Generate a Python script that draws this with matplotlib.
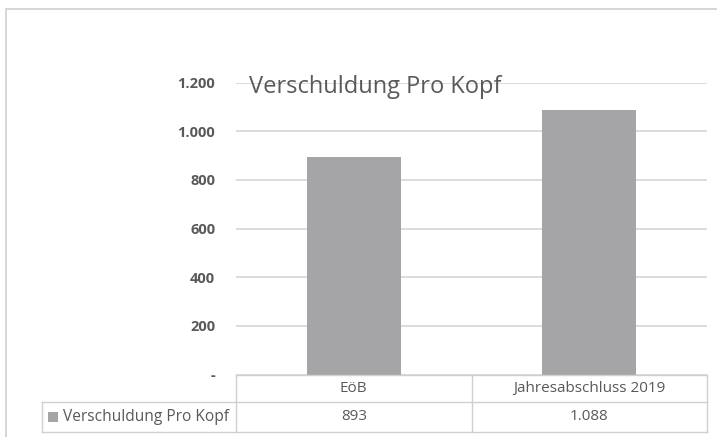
import matplotlib.pyplot as plt
import matplotlib.transforms as mtrans
from matplotlib.patches import Rectangle
from matplotlib.lines import Line2D

# data
categories = ['EöB', 'Jahresabschluss 2019']
values = [893, 1088]
value_labels = ['893', '1.088']
series_name = 'Verschuldung Pro Kopf'
yticks = [0, 200, 400, 600, 800, 1000, 1200]
ytick_labels = ['-', '200', '400', '600', '800', '1.000', '1.200']

W, H = 717, 437
text_col = '#595959'
grid_col = '#d9d9d9'
line_col = '#d0d0d0'
bar_col = '#a5a5a8'

plt.rcParams['font.family'] = ['Open Sans', 'DejaVu Sans']


def fy(py):
    # pixel row (from top) -> figure fraction
    return (H - py) / H


fig = plt.figure(figsize=(W / 100, H / 100), dpi=100)

# outer chart frame (only left and top edges are visible)
fig.patches.append(Rectangle((6 / W, -0.1), 1.2, 1.1 - 9 / H,
                             transform=fig.transFigure, fill=False,
                             edgecolor=line_col, linewidth=1.2))

# plot area: x 236..707 px, value 0 at 374.5 px, 1200 at 82.5 px
y0, y1 = 374.5, 82.5
ax = fig.add_axes([236 / W, fy(y0), (707 - 236) / W, (y0 - y1) / H])
x = list(range(len(categories)))
ax.bar(x, values, width=0.4, color=bar_col, zorder=3)
ax.set_xlim(-0.5, len(categories) - 0.5)
ax.set_ylim(0, 1200)
ax.set_yticks(yticks)
ax.set_yticklabels(ytick_labels, fontsize=10.5, fontweight='bold', color=text_col)
ax.tick_params(axis='y', length=0, pad=15)
ax.set_xticks([])
ax.grid(axis='y', color=grid_col, linewidth=1.3, zorder=0)
ax.set_axisbelow(True)
for s in ax.spines.values():
    s.set_visible(False)

fig.text(249 / W, fy(93), series_name, fontsize=17, color=text_col,
         va='baseline', ha='left')

# data table under the axis
row_px = [375, 402, 432]
left_edge = 42 / W
right_edge = 707 / W
tr = mtrans.blended_transform_factory(ax.transData, fig.transFigure)

fig.lines.append(Line2D([236 / W, right_edge], [fy(row_px[0])] * 2,
                        transform=fig.transFigure, color=line_col, linewidth=1))
for py in row_px[1:]:
    fig.lines.append(Line2D([left_edge, right_edge], [fy(py)] * 2,
                            transform=fig.transFigure, color=line_col, linewidth=1))
for xv in [-0.5 + i for i in range(len(categories) + 1)]:
    ax.add_line(Line2D([xv, xv], [fy(row_px[0]), fy(row_px[2])], transform=tr,
                       color=line_col, linewidth=1, clip_on=False))
fig.lines.append(Line2D([left_edge] * 2, [fy(row_px[1]), fy(row_px[2])],
                        transform=fig.transFigure, color=line_col, linewidth=1))

head_y = fy((row_px[0] + row_px[1]) / 2)
data_y = fy((row_px[1] + row_px[2]) / 2)
for i, (c, v) in enumerate(zip(categories, value_labels)):
    ax.text(i, head_y, c, transform=tr, ha='center', va='center',
            fontsize=11, color=text_col)
    ax.text(i, data_y, v, transform=tr, ha='center', va='center',
            fontsize=11, color=text_col)

# legend key in the row header
fig.patches.append(Rectangle((48 / W, data_y - 5 / H), 10 / W, 10 / H,
                             transform=fig.transFigure,
                             facecolor=bar_col, edgecolor='none'))
fig.text(63 / W, data_y, series_name, fontsize=11.2, color=text_col,
         va='center', ha='left')

fig.savefig('out.png', dpi=100)
